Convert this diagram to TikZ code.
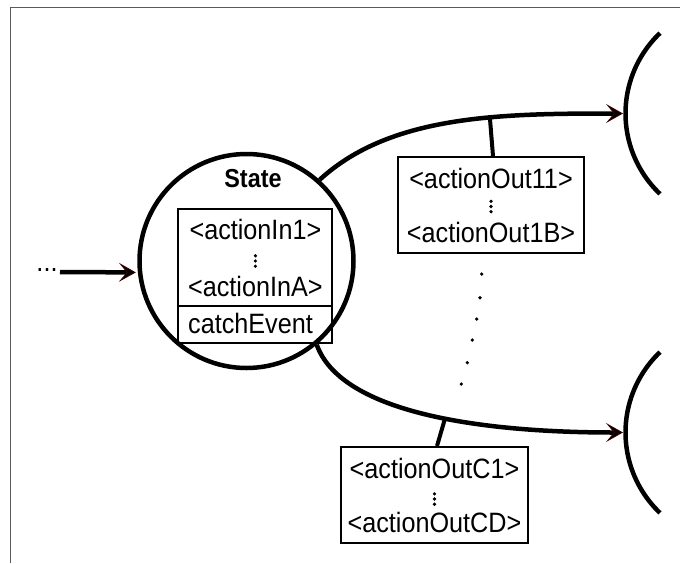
\documentclass[tikz,border=0pt]{standalone}
\usepackage{fontspec}
\setmainfont{Liberation Sans}[FakeStretch=0.9]
\usetikzlibrary{arrows.meta}
\definecolor{framegray}{RGB}{90,90,90}
\definecolor{arrowred}{RGB}{60,0,0}
\begin{document}
\begin{tikzpicture}[x=1pt,y=1pt,
  font=\fontsize{28}{32}\selectfont,
  heavy/.style={line width=4.5pt},
  tickline/.style={line width=4pt},
  boxline/.style={draw, line width=2pt, inner sep=0pt},
  txt/.style={inner sep=0pt},
  dotmark/.style={fill=black},
  vellip/.pic={\fill (0,5.2) circle (1.8); \fill (0,0) circle (1.8); \fill (0,-5.2) circle (1.8);},
  tipmeta/.style={-{Stealth[length=17pt,width=19pt,inset=8pt,line width=0.8pt,color=arrowred,fill=black]}},
  frameline/.style={line width=1.6pt, draw=framegray}]
\useasboundingbox (0,0) rectangle (680,-563);
% frame
\draw[frameline] (10.5,-563) -- (10.5,-7.5) -- (680,-7.5);
% state circle
\node[circle, draw, line width=4.5pt, minimum size=214pt, inner sep=0pt] (state) at (246.5,-261) {};
\node[txt, font=\bfseries\fontsize{26}{28}\selectfont] (title) at (253,-179) {State};
% inner box
\node[boxline, minimum width=154pt, minimum height=134pt] (inbox) at (255.4,-276) {};
\path (inbox.south west) ++(0,38) coordinate (divL);
\path (inbox.south east) ++(0,38) coordinate (divR);
\draw[line width=2pt] (divL) -- (divR);
\node[txt] (in1) at (255.4,-229.5) {<actionIn1>};
\pic at (255.4,-261) {vellip};
\node[txt] (inA) at (255.4,-286.5) {<actionInA>};
\node[txt, anchor=west] (catch) at (188,-323) {catchEvent};
% incoming
\node[txt] (dotsin) at (47,-269.5) {...};
\coordinate (inS) at (60,-272);
\draw[heavy, tipmeta, shorten >=2pt] (inS) -- (state.186);
% right brackets
\coordinate (br1) at (736.5,-113.5);
\coordinate (br2) at (736.5,-432.5);
\draw[heavy] (br1) ++(133.6:111) arc[start angle=133.6, end angle=226.4, radius=111];
\draw[heavy] (br2) ++(133.6:111) arc[start angle=133.6, end angle=226.4, radius=111];
\coordinate (tip1) at (623,-113.5);
\coordinate (tip2) at (623,-432.5);
% outgoing curves
\draw[heavy, tipmeta] (state.48) .. controls (390,-115) and (500,-113.5) .. (tip1) coordinate[pos=0.62] (t1);
\draw[heavy, tipmeta] (state.-50) .. controls (340,-410) and (470,-432.5) .. (tip2) coordinate[pos=0.57] (t2);
% action boxes
\node[boxline, minimum width=186pt, minimum height=96pt] (out1) at (491,-205) {};
\node[txt] (o11) at (491,-178.5) {<actionOut11>};
\pic at (491,-206.5) {vellip};
\node[txt] (o1B) at (491,-232.5) {<actionOut1B>};
\node[boxline, minimum width=187pt, minimum height=96pt] (out2) at (434.5,-495) {};
\node[txt] (oC1) at (434.5,-468.5) {<actionOutC1>};
\pic at (434.5,-499) {vellip};
\node[txt] (oCD) at (434.5,-522.5) {<actionOutCD>};
\draw[tickline] (t1) -- ([xshift=2pt]out1.north);
\draw[tickline] (t2) -- ([xshift=2.5pt]out2.north);
% dots between
\foreach \dx/\dy in {481.7/274, 480/297.7, 476.7/319, 472.3/340, 467.3/362.7, 461.3/384}
  \fill[dotmark] (\dx,-\dy) circle (1.8);
\end{tikzpicture}
\end{document}
